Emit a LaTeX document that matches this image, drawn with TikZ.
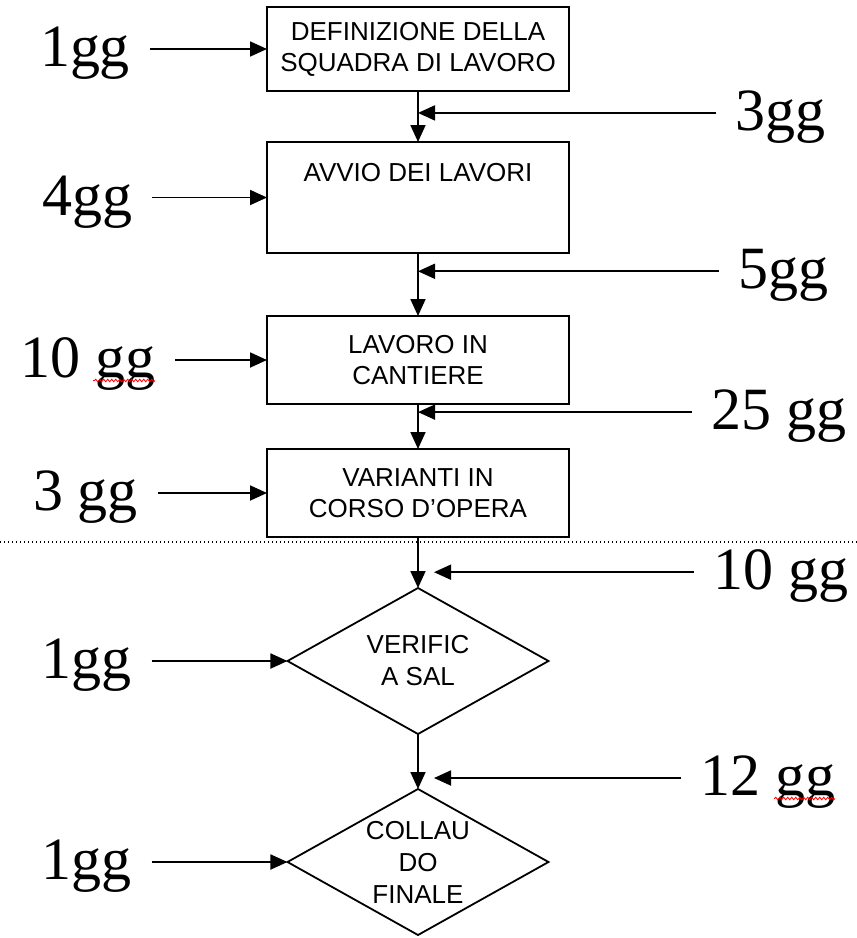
\documentclass[tikz,border=0pt]{standalone}
\usepackage{fontspec}
\usetikzlibrary{arrows.meta, positioning, shapes.geometric, decorations.pathmorphing}
\newfontfamily\ggfont{Liberation Serif}
\newfontfamily\stepfont{Liberation Sans}

\begin{document}
\begin{tikzpicture}[x=1pt, y=-1pt, line width=1.8pt, >={Triangle[length=17pt, width=15pt]},
    box/.style={draw, outer sep=0pt, minimum width=302pt, minimum height=88pt, align=center,
      font={\stepfont\fontsize{26}{31}\selectfont}},
    check/.style={draw, diamond, outer sep=0pt, inner sep=0pt, shape aspect=1.79,
      minimum width=261pt, minimum height=146pt, align=center,
      font={\stepfont\fontsize{26}{32}\selectfont}},
    days/.style={inner sep=0pt, outer sep=0pt, text height=41pt, text depth=6pt,
      font={\ggfont\fontsize{60}{72}\selectfont}},
    spell/.style={draw=red, line width=0.8pt, decorate,
      decoration={snake, amplitude=1.3pt, segment length=4pt}}]
  \useasboundingbox (0,0) rectangle (857,938);

  % phases
  \node (b1) [box, minimum height=84pt] at (418,49) {DEFINIZIONE DELLA\\SQUADRA DI LAVORO};
  \node (b2) [box, below=51pt of b1, inner ysep=0pt, text height=39pt, text depth=72pt] {AVVIO DEI LAVORI};
  \node (b3) [box, below=63pt of b2] {LAVORO IN\\CANTIERE};
  \node (b4) [box, below=45pt of b3] {VARIANTI IN\\CORSO D’OPERA};
  \node (d1) [check, below=51pt of b4] {VERIFIC\\A SAL};
  \node (d2) [check, below=55pt of d1] {COLLAU\\DO\\FINALE};

  \draw[->] (b1) -- coordinate[pos=0.43] (j1) (b2);
  \draw[->] (b2) -- coordinate[pos=0.29] (j2) (b3);
  \draw[->] (b3) -- coordinate[pos=0.18] (j3) (b4);
  \draw[->] (b4) -- coordinate[pos=0.69] (j4) (d1);
  \draw[->] (d1) -- coordinate[pos=0.8] (j5) (d2);

  % durations on the left
  \node (l1) [days, left=137pt of b1] {1gg};
  \node (l2) [days, left=135pt of b2] {4gg};
  \node (l3) [days, left=112pt of b3] {10 gg};
  \node (l4) [days, left=129pt of b4] {3 gg};
  \node (l5) [days, left=156pt of d1] {1gg};
  \node (l6) [days, left=156pt of d2] {1gg};
  \foreach \l/\b in {l1/b1, l2/b2, l3/b3, l4/b4, l5/d1, l6/d2}
    \draw[->, shorten <=20pt] (\l) -- (\b);

  % durations between the phases
  \node (r1) [days, right=317pt of j1] {3gg};
  \node (r2) [days, right=320pt of j2] {5gg};
  \node (r3) [days, right=293pt of j3] {25 gg};
  \node (r4) [days, right=295pt of j4] {10 gg};
  \node (r5) [days, right=282pt of j5] {12 gg};
  \foreach \r/\j in {r1/j1, r2/j2, r3/j3}
    \draw[->, shorten <=19pt] (\r) -- (\j);
  \foreach \r/\j in {r4/j4, r5/j5}
    \draw[->, shorten <=19pt, shorten >=16pt] (\r) -- (\j);

  \draw[spell] ([yshift=-3pt]l3.base east) -- ++(-62,0);
  \draw[spell] ([yshift=-3pt]r5.base east) -- ++(-61,0);

  \draw[line width=1.2pt, dash pattern=on 1.2pt off 2.8pt] (0,542) -- (857,542);
\end{tikzpicture}
\end{document}
